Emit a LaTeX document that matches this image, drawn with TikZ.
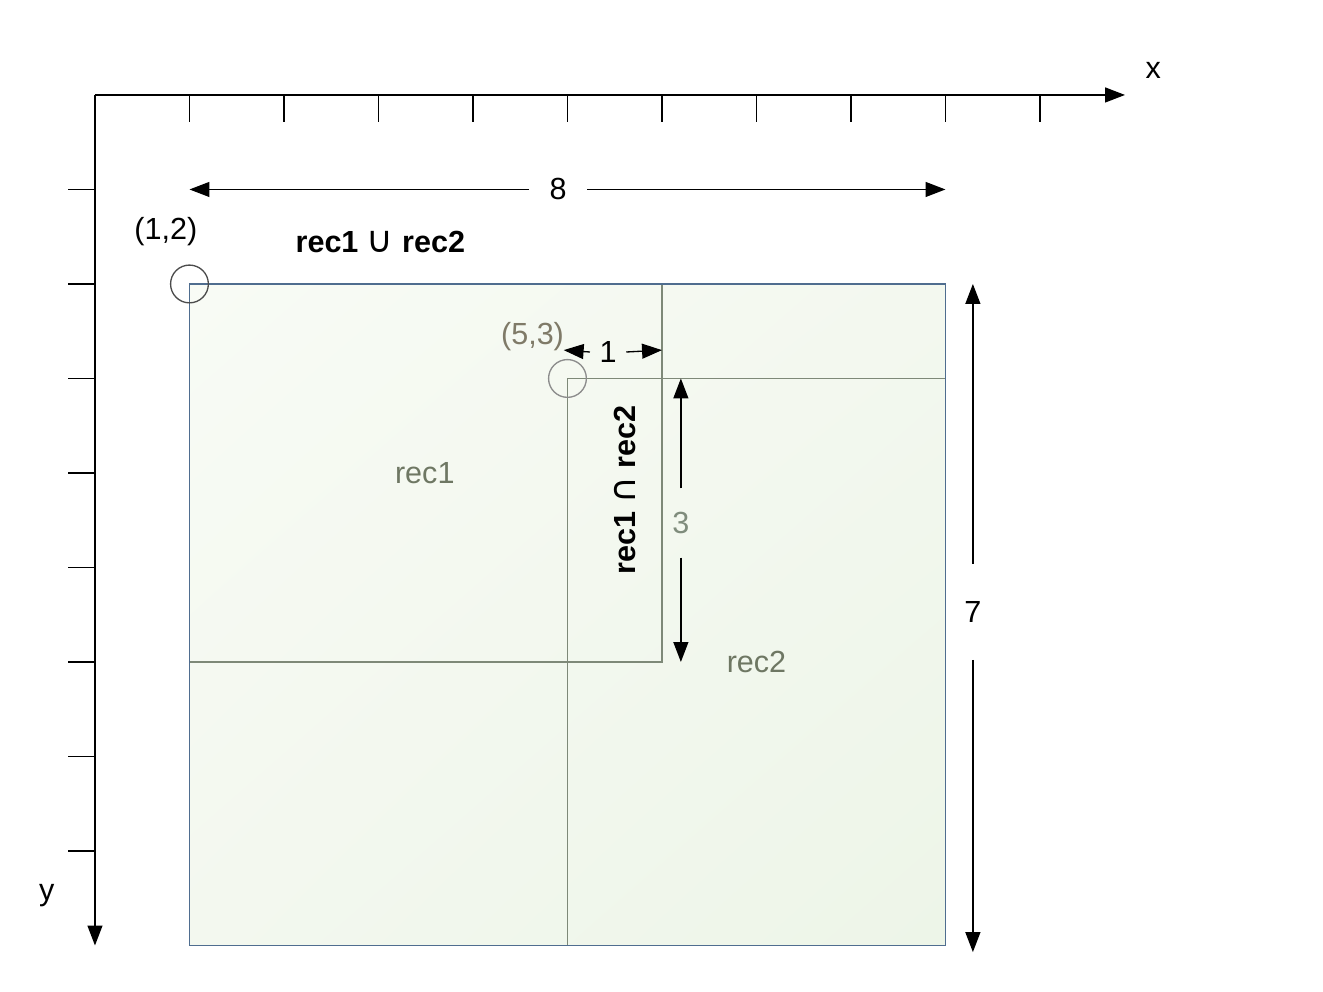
\documentclass[tikz,border=0pt]{standalone}
\usepackage{fontspec}
\setmainfont{Liberation Sans}
\newfontfamily\symfont{DejaVu Sans}
\usepackage{xcolor}
\usetikzlibrary{arrows.meta, shadings}

\definecolor{fillA}{HTML}{F8FBF5}
\definecolor{fillB}{HTML}{EDF5E8}
\definecolor{fillC}{HTML}{F3F8EF}
\definecolor{rimgreen}{HTML}{7E8978}
\definecolor{rimblue}{HTML}{4F6D8F}
\definecolor{recgray}{HTML}{6E7763}
\definecolor{ptgray}{HTML}{7F7A68}
\definecolor{dimgray}{HTML}{7F8C7C}

\begin{document}
\begin{tikzpicture}[x=1cm, y=-1cm,
    font=\fontsize{9.2}{11}\selectfont,
    axis/.style={-{Triangle[length=6pt,width=4.5pt]}},
    dimarrow/.style={-{Triangle[length=6pt,width=4.5pt]}},
    rim/.style={draw=rimgreen},
    gap/.style={inner sep=0pt}]
    \newcommand*{\ticklen}{0.29}
    \newcommand*{\setop}[1]{{\fontsize{11}{11}\symfont #1}}
    \useasboundingbox (-1.005,-1.005) rectangle (12.995,9.492);
    % axes
    \coordinate (O) at (0,0);
    \coordinate (xend) at (10.9,0);
    \coordinate (yend) at (0,9);
    \draw[axis] (O) -- (xend);
    \draw[axis] (O) -- (yend);
    \foreach \i in {1,...,10} \draw (\i,0) -- (\i,\ticklen);
    \foreach \j in {1,...,8} \draw (0,\j) -- (-\ticklen,\j);
    \node (xlab) at (11.2,-0.26) {x};
    \node (ylab) at (-0.51,8.47) {y};
    % union box and the two rectangles
    \shade[upper left=fillA, upper right=fillC, lower left=fillC, lower right=fillB] (1,2) rectangle (9,9);
    \draw[rim] (1,2) rectangle (6,6);
    \draw[rim] (5,3) rectangle (9,9);
    \draw[draw=rimblue] (1,2) rectangle (9,9);
    \draw[black!70] (1,2) circle (0.2);
    \draw[black!45] (5,3) circle (0.2);
    % texts
    \node (p12) at (0.75,1.45) {(1,2)};
    \node (union) at (3.02,1.56) {\textbf{rec1} \setop{∪} \textbf{rec2}};
    \node[text=ptgray] (p53) at (4.63,2.56) {(5,3)};
    \node[text=recgray] (rec1) at (3.49,4.0) {rec1};
    \node[text=recgray] (rec2) at (7.0,6.0) {rec2};
    \node[rotate=90] (inter) at (5.61,4.18) {\textbf{rec1} \setop{∩} \textbf{rec2}};
    % dimensions
    \node[gap, minimum width=0.6cm] (d8) at (4.9,1) {8};
    \coordinate (d8a) at (1,1);
    \coordinate (d8b) at (9,1);
    \draw[dimarrow] (d8.west) -- (d8a);
    \draw[dimarrow] (d8.east) -- (d8b);
    \node[gap, minimum height=1cm] (d7) at (9.29,5.47) {7};
    \coordinate (d7a) at (9.29,2);
    \coordinate (d7b) at (9.29,9.07);
    \draw[dimarrow] (d7.north) -- (d7a);
    \draw[dimarrow] (d7.south) -- (d7b);
    \node[gap, minimum width=0.37cm] (d1) at (5.43,2.72) {1};
    \coordinate (d1a) at (4.96,2.7);
    \coordinate (d1b) at (6,2.7);
    \draw[dimarrow] (d1.west) -- (d1a);
    \draw[dimarrow] (d1.east) -- (d1b);
    \node[gap, minimum height=0.72cm, text=dimgray] (d3) at (6.2,4.53) {3};
    \coordinate (d3a) at (6.2,3);
    \coordinate (d3b) at (6.2,6);
    \draw[dimarrow] (d3.north) -- (d3a);
    \draw[dimarrow] (d3.south) -- (d3b);
\end{tikzpicture}
\end{document}
